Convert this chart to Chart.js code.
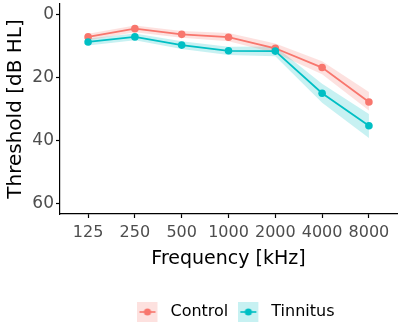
<!DOCTYPE html>
<html>
<head>
<meta charset="utf-8">
<script src="https://cdn.jsdelivr.net/npm/chart.js@4/dist/chart.umd.min.js"></script>
<style>
  html, body { margin: 0; padding: 0; background: #fff; }
  #wrap { width: 401px; height: 323px; }
</style>
</head>
<body>
<div id="wrap"><canvas id="grafico"></canvas></div>
<script>
const frecuencias = ['125', '250', '500', '1000', '2000', '4000', '8000'];
const yTicks = [0, 20, 40, 60];

const control = [7.2, 4.6, 6.4, 7.3, 10.8, 16.9, 27.8];
const controlLo = [6.2, 3.6, 5.3, 6.0, 9.3, 14.9, 24.6];
const controlHi = [8.3, 5.7, 7.5, 8.6, 12.3, 19.0, 30.5];

const tinnitus = [8.8, 7.2, 9.8, 11.6, 11.7, 25.0, 35.3];
const tinnitusLo = [7.7, 6.1, 8.6, 10.3, 10.2, 22.0, 31.6];
const tinnitusHi = [9.9, 8.3, 11.0, 12.9, 13.3, 28.0, 39.2];

const rojo = '#F8766D';
const cian = '#00BFC4';
const rojoBanda = 'rgba(248,118,109,0.22)';
const cianBanda = 'rgba(0,191,196,0.22)';

const puntos = arr => arr.map((v, i) => ({ x: i, y: v }));

// icono de leyenda estilo ggplot: cuadro con banda, linea y punto
function icono(color, banda) {
  const c = document.createElement('canvas');
  c.width = 25; c.height = 20;
  const g = c.getContext('2d');
  g.fillStyle = banda;
  g.fillRect(0, 0, 20, 20);
  g.strokeStyle = color;
  g.lineWidth = 1.6;
  g.beginPath(); g.moveTo(2, 10); g.lineTo(18, 10); g.stroke();
  g.fillStyle = color;
  g.beginPath(); g.arc(10, 10, 3.6, 0, Math.PI * 2); g.fill();
  return c;
}

// mover la leyenda para centrarla bajo el panel, como ggplot
const moverLeyenda = {
  id: 'moverLeyenda',
  afterLayout(chart) {
    const l = chart.legend;
    if (!l) return;
    l.left += 37; l.right += 37;
    l.top += 7; l.bottom += 7;
  }
};

const fuente = "'DejaVu Sans', sans-serif";
const ctx = document.getElementById('grafico').getContext('2d');

new Chart(ctx, {
  type: 'line',
  data: {
    datasets: [
      { label: 'cHi', data: puntos(controlHi), borderWidth: 0, pointRadius: 0, fill: false, order: 5 },
      { label: 'cLo', data: puntos(controlLo), borderWidth: 0, pointRadius: 0, fill: '-1', backgroundColor: rojoBanda, order: 5 },
      { label: 'tHi', data: puntos(tinnitusHi), borderWidth: 0, pointRadius: 0, fill: false, order: 5 },
      { label: 'tLo', data: puntos(tinnitusLo), borderWidth: 0, pointRadius: 0, fill: '-1', backgroundColor: cianBanda, order: 5 },
      { label: 'Control', data: puntos(control), borderColor: rojo, backgroundColor: rojo,
        borderWidth: 1.8, pointRadius: 3.8, pointBorderWidth: 0, fill: false, order: 2 },
      { label: 'Tinnitus', data: puntos(tinnitus), borderColor: cian, backgroundColor: cian,
        borderWidth: 1.8, pointRadius: 3.8, pointBorderWidth: 0, fill: false, order: 1 }
    ]
  },
  options: {
    responsive: true,
    maintainAspectRatio: false,
    animation: false,
    layout: { padding: { top: 3, right: 3, left: 0, bottom: 0 } },
    plugins: {
      tooltip: { enabled: false },
      legend: {
        position: 'bottom',
        labels: {
          usePointStyle: true,
          pointStyleWidth: 25,
          padding: 10,
          color: '#000',
          font: { family: fuente, size: 16 },
          generateLabels: chart => [
            { text: 'Control', pointStyle: icono(rojo, rojoBanda), datasetIndex: 4, fontColor: '#000', lineWidth: 0, strokeStyle: 'transparent' },
            { text: 'Tinnitus', pointStyle: icono(cian, cianBanda), datasetIndex: 5, fontColor: '#000', lineWidth: 0, strokeStyle: 'transparent' }
          ]
        }
      }
    },
    scales: {
      x: {
        type: 'linear',
        min: -0.6,
        max: 6.6,
        afterBuildTicks: s => { s.ticks = frecuencias.map((f, i) => ({ value: i })); },
        afterFit: s => { s.height = 73; },
        ticks: {
          callback: v => frecuencias[v],
          color: '#4D4D4D',
          font: { family: fuente, size: 16 },
          padding: 5,
          maxRotation: 0,
          autoSkip: false
        },
        grid: { drawOnChartArea: false, color: '#000', tickLength: 4, tickWidth: 1.2 },
        border: { display: true, color: '#000', width: 1.2 },
        title: {
          display: true,
          text: 'Frequency [kHz]',
          color: '#000',
          font: { family: fuente, size: 19 },
          padding: { top: 0, bottom: 17 }
        }
      },
      y: {
        type: 'linear',
        reverse: true,
        min: -3.2,
        max: 63.2,
        afterBuildTicks: s => { s.ticks = yTicks.map(v => ({ value: v })); },
        afterFit: s => { s.width = 60; s.paddingTop = 0; s.paddingBottom = 0; },
        ticks: {
          color: '#4D4D4D',
          font: { family: fuente, size: 17 },
          padding: 2
        },
        grid: { drawOnChartArea: false, color: '#000', tickLength: 4, tickWidth: 1.2 },
        border: { display: true, color: '#000', width: 1.2 },
        title: {
          display: true,
          text: 'Threshold [dB HL]',
          color: '#000',
          font: { family: fuente, size: 20 },
          padding: { top: 4, bottom: 0 }
        }
      }
    }
  },
  plugins: [moverLeyenda]
});
</script>
</body>
</html>
